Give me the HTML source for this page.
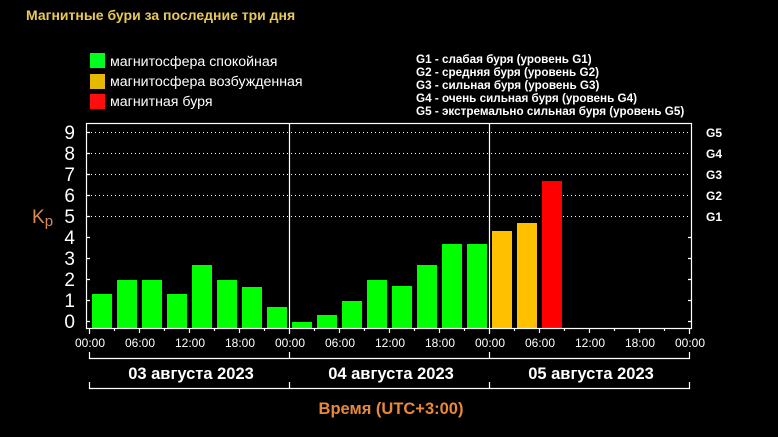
<!DOCTYPE html>
<html><head><meta charset="utf-8"><style>
html,body{margin:0;padding:0;background:#000;width:778px;height:437px;overflow:hidden}
svg{display:block}
text{font-family:"Liberation Sans",sans-serif}
</style></head><body>
<svg width="778" height="437" viewBox="0 0 778 437" xmlns="http://www.w3.org/2000/svg">
<rect width="778" height="437" fill="#000"/>
<text x="26" y="20" fill="#e8c85a" font-size="14" font-weight="bold">Магнитные бури за последние три дня</text>
<rect x="90" y="53" width="15" height="15" fill="#00ff1e"/>
<rect x="90" y="74" width="15" height="15" fill="#e6b800"/>
<rect x="90" y="94" width="15" height="15" fill="#ff0d0d"/>
<g fill="#fff" font-size="14.2">
<text x="110" y="66">магнитосфера спокойная</text>
<text x="110" y="86">магнитосфера возбужденная</text>
<text x="110" y="106">магнитная буря</text>
</g>
<g fill="#fff" font-size="11.7" font-weight="bold">
<text x="416" y="63">G1 - слабая буря (уровень G1)</text>
<text x="416" y="76">G2 - средняя буря (уровень G2)</text>
<text x="416" y="89">G3 - сильная буря (уровень G3)</text>
<text x="416" y="102">G4 - очень сильная буря (уровень G4)</text>
<text x="416" y="115">G5 - экстремально сильная буря (уровень G5)</text>
</g>
<g stroke="#fff" stroke-width="1" stroke-dasharray="1,3">
<line x1="87" y1="132.5" x2="691" y2="132.5"/>
<line x1="87" y1="153.5" x2="691" y2="153.5"/>
<line x1="87" y1="174.5" x2="691" y2="174.5"/>
<line x1="87" y1="195.5" x2="691" y2="195.5"/>
<line x1="87" y1="216.5" x2="691" y2="216.5"/>
</g>
<g fill="#00ff00">
<rect x="92" y="294" width="20" height="34"/>
<rect x="117" y="280" width="20" height="48"/>
<rect x="142" y="280" width="20" height="48"/>
<rect x="167" y="294" width="20" height="34"/>
<rect x="192" y="265" width="20" height="63"/>
<rect x="217" y="280" width="20" height="48"/>
<rect x="242" y="287" width="20" height="41"/>
<rect x="267" y="307" width="20" height="21"/>
<rect x="292" y="322" width="20" height="6"/>
<rect x="317" y="315" width="20" height="13"/>
<rect x="342" y="301" width="20" height="27"/>
<rect x="367" y="280" width="20" height="48"/>
<rect x="392" y="286" width="20" height="42"/>
<rect x="417" y="265" width="20" height="63"/>
<rect x="442" y="244" width="20" height="84"/>
<rect x="467" y="244" width="20" height="84"/>
</g>
<rect x="492" y="231" width="20" height="97" fill="#ffc000"/>
<rect x="517" y="223" width="20" height="105" fill="#ffc000"/>
<rect x="542" y="181" width="20" height="147" fill="#ff0000"/>
<g stroke="#fff" stroke-width="1.2" fill="none">
<rect x="86.5" y="123.5" width="605" height="205"/>
<line x1="289.5" y1="123" x2="289.5" y2="334"/>
<line x1="489.5" y1="123" x2="489.5" y2="334"/>
<line x1="89.5" y1="328" x2="89.5" y2="334"/>
<line x1="689.5" y1="328" x2="689.5" y2="334"/>
<path d="M139.5 328v5M189.5 328v5M239.5 328v5M339.5 328v5M389.5 328v5M439.5 328v5M539.5 328v5M589.5 328v5M639.5 328v5"/>
<path d="M114.5 328v3M164.5 328v3M214.5 328v3M264.5 328v3M314.5 328v3M364.5 328v3M414.5 328v3M464.5 328v3M514.5 328v3M564.5 328v3M614.5 328v3M664.5 328v3"/>
<path d="M86 132.5h4M86 153.5h4M86 174.5h4M86 195.5h4M86 216.5h4M86 237.5h4M86 258.5h4M86 279.5h4M86 300.5h4M86 321.5h4"/>
<path d="M688 237.5h4M688 258.5h4M688 279.5h4M688 300.5h4M688 321.5h4"/>
<path d="M89.5 352v6.5h600v-6.5M289.5 352v6M489.5 352v6"/>
<path d="M89.5 382v6.5h600v-6.5M289.5 382v6M489.5 382v6"/>
</g>
<g fill="#fff" font-size="19" font-family="DejaVu Sans" text-anchor="end">
<text x="75" y="139">9</text><text x="75" y="160">8</text><text x="75" y="181">7</text>
<text x="75" y="202">6</text><text x="75" y="223">5</text><text x="75" y="244">4</text>
<text x="75" y="265">3</text><text x="75" y="286">2</text><text x="75" y="307">1</text>
<text x="75" y="328">0</text>
</g>
<text x="32" y="223" fill="#d98a5a" font-size="19" font-family="DejaVu Sans">K<tspan font-size="15" dy="3">p</tspan></text>
<g fill="#fff" font-size="12" font-weight="bold">
<text x="706" y="137">G5</text><text x="706" y="158">G4</text><text x="706" y="179">G3</text>
<text x="706" y="200">G2</text><text x="706" y="221">G1</text>
</g>
<g fill="#fff" font-size="12" text-anchor="middle" font-family="DejaVu Sans">
<text x="90" y="347">00:00</text><text x="140" y="347">06:00</text><text x="190" y="347">12:00</text><text x="240" y="347">18:00</text>
<text x="290" y="347">00:00</text><text x="340" y="347">06:00</text><text x="390" y="347">12:00</text><text x="440" y="347">18:00</text>
<text x="490" y="347">00:00</text><text x="540" y="347">06:00</text><text x="590" y="347">12:00</text><text x="640" y="347">18:00</text>
<text x="690" y="347">00:00</text>
</g>
<g fill="#fff" font-size="16.5" font-weight="bold" text-anchor="middle">
<text x="191" y="379">03 августа 2023</text>
<text x="391" y="379">04 августа 2023</text>
<text x="591" y="379">05 августа 2023</text>
</g>
<text x="391" y="414" fill="#e8893a" font-size="16.5" font-weight="bold" text-anchor="middle">Время (UTC+3:00)</text>
</svg>
</body></html>
